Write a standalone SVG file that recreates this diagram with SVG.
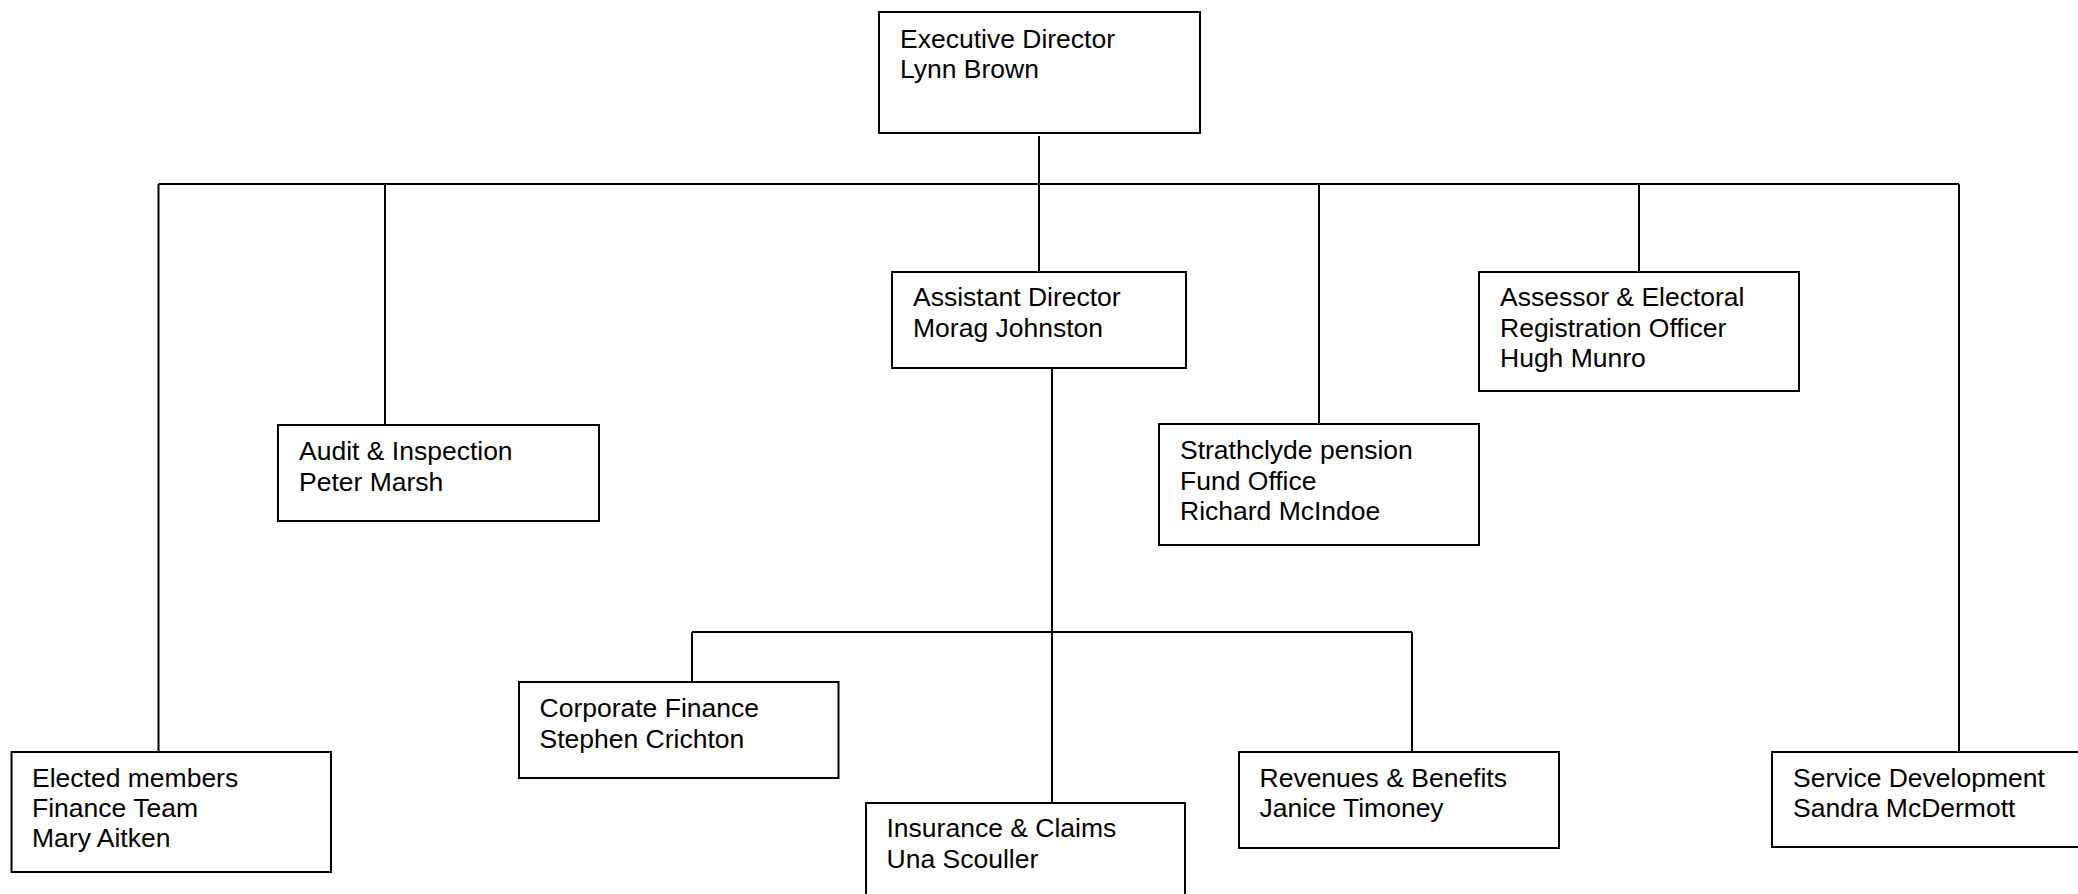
<svg xmlns="http://www.w3.org/2000/svg" width="2078" height="894" viewBox="0 0 2078 894">
<style>
.box{fill:#fff;stroke:#000;stroke-width:2}
.lbl{font-family:"Liberation Sans",Arial,sans-serif;font-size:26.5px;fill:#000}
.conn line{stroke:#000;stroke-width:2}
</style>
<rect width="2078" height="894" fill="#fff"/>
<g id="connectors" class="conn">
<line x1="1039" y1="136" x2="1039" y2="281"/>
<line x1="158.5" y1="184" x2="1959" y2="184"/>
<line x1="158.5" y1="184" x2="158.5" y2="761"/>
<line x1="385" y1="184" x2="385" y2="425"/>
<line x1="1319" y1="184" x2="1319" y2="424"/>
<line x1="1639" y1="184" x2="1639" y2="281"/>
<line x1="1959" y1="184" x2="1959" y2="761"/>
<line x1="1052" y1="368" x2="1052" y2="803"/>
<line x1="692" y1="632" x2="1412" y2="632"/>
<line x1="692" y1="632" x2="692" y2="682"/>
<line x1="1412" y1="632" x2="1412" y2="752"/>
</g>
<g id="exec">
<rect class="box" x="879" y="12" width="321" height="121"/>
<text class="lbl" x="900" y="47.5">Executive Director<tspan x="900" dy="30.5">Lynn Brown</tspan></text>
</g>
<g id="assistant">
<rect class="box" x="892" y="272" width="294" height="96"/>
<text class="lbl" x="913" y="306">Assistant Director<tspan x="913" dy="30.5">Morag Johnston</tspan></text>
</g>
<g id="audit">
<rect class="box" x="278" y="425" width="321" height="96"/>
<text class="lbl" x="299" y="460">Audit &amp; Inspection<tspan x="299" dy="30.5">Peter Marsh</tspan></text>
</g>
<g id="strathclyde">
<rect class="box" x="1159" y="424" width="320" height="121"/>
<text class="lbl" x="1180" y="459">Strathclyde pension<tspan x="1180" dy="30.5">Fund Office</tspan><tspan x="1180" dy="30.5">Richard McIndoe</tspan></text>
</g>
<g id="assessor">
<rect class="box" x="1479" y="272" width="320" height="119"/>
<text class="lbl" x="1500" y="306">Assessor &amp; Electoral<tspan x="1500" dy="30.5">Registration Officer</tspan><tspan x="1500" dy="30.5">Hugh Munro</tspan></text>
</g>
<g id="elected">
<rect class="box" x="11.5" y="752" width="319.5" height="120"/>
<text class="lbl" x="32" y="787">Elected members<tspan x="32" dy="30">Finance Team</tspan><tspan x="32" dy="30">Mary Aitken</tspan></text>
</g>
<g id="corporate">
<rect class="box" x="519" y="682" width="319.5" height="96"/>
<text class="lbl" x="539.5" y="717">Corporate Finance<tspan x="539.5" dy="30.5">Stephen Crichton</tspan></text>
</g>
<g id="insurance">
<rect class="box" x="866" y="803" width="319" height="96"/>
<text class="lbl" x="886.5" y="837">Insurance &amp; Claims<tspan x="886.5" dy="30.5">Una Scouller</tspan></text>
</g>
<g id="revenues">
<rect class="box" x="1239" y="752" width="320" height="96"/>
<text class="lbl" x="1259.5" y="787">Revenues &amp; Benefits<tspan x="1259.5" dy="30">Janice Timoney</tspan></text>
</g>
<g id="service">
<rect class="box" x="1772" y="752" width="320" height="95"/>
<text class="lbl" x="1793" y="787">Service Development<tspan x="1793" dy="30">Sandra McDermott</tspan></text>
</g>
</svg>
